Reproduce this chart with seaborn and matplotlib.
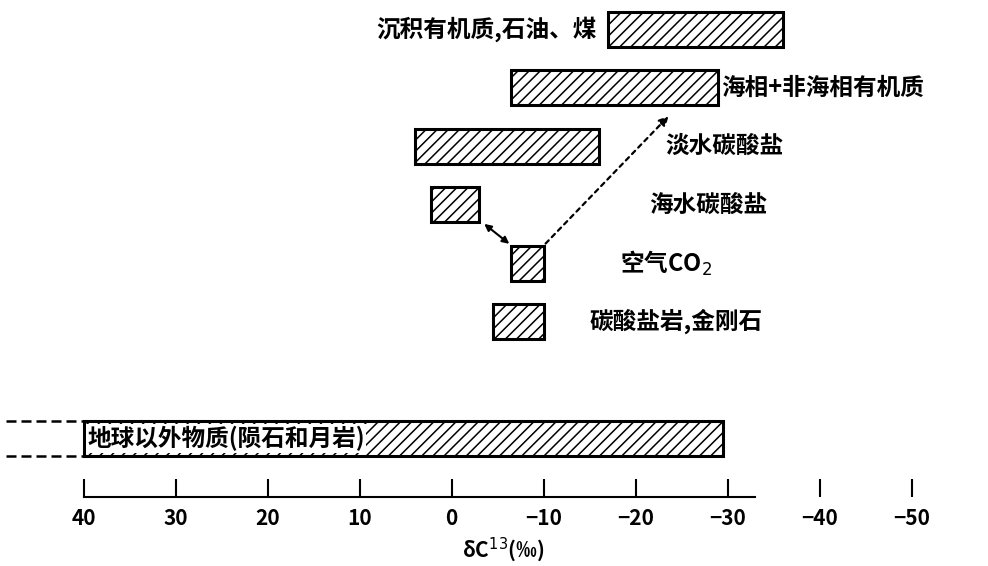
import numpy as np
import matplotlib
matplotlib.use("Agg")
import matplotlib.pyplot as plt
import seaborn as sns

# delta C13 ranges (per mil)
labels = ["沉积有机质,石油、煤", "海相+非海相有机质", "淡水碳酸盐", "海水碳酸盐",
          "空气CO$_2$", "碳酸盐岩,金刚石", "地球以外物质(陨石和月岩)"]
range_start = [-17, -6.5, 4, 2.2, -6.5, -4.5, 40]
range_end = [-36, -29, -16, -3, -10, -10, -29.5]
row = [0, 1, 2, 3, 4, 5, 7]

tick_values = [40, 30, 20, 10, 0, -10, -20, -30, -40, -50]
tick_labels = ["40", "30", "20", "10", "0", "−10", "−20", "−30", "−40", "−50"]

# where each label sits (x in data units, alignment)
label_x = [-15.8, -29.3, -23.2, -21.5, -18.3, -15.0, 39.6]
label_ha = ["right", "left", "left", "left", "left", "left", "left"]

sns.set_theme(style="white")
plt.rcParams["font.family"] = ["Noto Sans CJK SC", "DejaVu Sans"]
plt.rcParams["hatch.linewidth"] = 1.1

fig = plt.figure(figsize=(9.88, 5.66), dpi=100)
ax = fig.add_axes([0, 0.122, 1, 0.878])

bar_h = 0.6
start = np.array(range_start)
end = np.array(range_end)
ax.barh(row, end - start, left=start, height=bar_h, facecolor="white",
        edgecolor="black", hatch="///", linewidth=2.2)

for i, lab in enumerate(labels):
    box = None
    if i == 6:
        box = dict(facecolor="white", edgecolor="none", pad=1)
    ax.text(label_x[i], row[i], lab, ha=label_ha[i], va="center",
            fontsize=17, fontweight="bold", color="black", bbox=box)

# dashed continuation of the extraterrestrial bar beyond the axis
for dy in (-bar_h / 2, bar_h / 2):
    ax.plot([48.5, 40], [row[6] + dy, row[6] + dy], color="black",
            linestyle=(0, (4, 2)), linewidth=1.8)

# arrows between air CO2 and the carbonate / organic ranges
ax.annotate("", xy=(range_end[3] - 0.3, row[3] + bar_h / 2),
            xytext=(range_start[4], row[4] - bar_h / 2),
            arrowprops=dict(arrowstyle="<|-|>", color="black", lw=1.5,
                            mutation_scale=10))
ax.annotate("", xy=(-23.8, 1.45), xytext=(range_end[4], row[4] - bar_h / 2),
            arrowprops=dict(arrowstyle="-|>", color="black", lw=1.6,
                            linestyle=(0, (2, 2)), mutation_scale=14))

ax.set_xlim(49.1, -58.3)
ax.set_ylim(8.0, -0.5)
ax.set_xticks(tick_values)
ax.set_xticklabels(tick_labels, fontsize=15, fontweight="bold", color="black")
ax.set_yticks([])
ax.tick_params(axis="x", direction="in", length=13, width=1.5, pad=8,
               colors="black", bottom=True)
for side in ("top", "left", "right"):
    ax.spines[side].set_visible(False)
ax.spines["bottom"].set_bounds(-33, 40)
ax.spines["bottom"].set_linewidth(1.5)
ax.spines["bottom"].set_color("black")

ax.set_xlabel("δC$^{13}$(‰)", fontsize=15, fontweight="bold", color="black")
ax.xaxis.label.set_va("center")
ax.xaxis.set_label_coords(0.509, -0.107)

fig.savefig("out.png", dpi=100, facecolor="white")
